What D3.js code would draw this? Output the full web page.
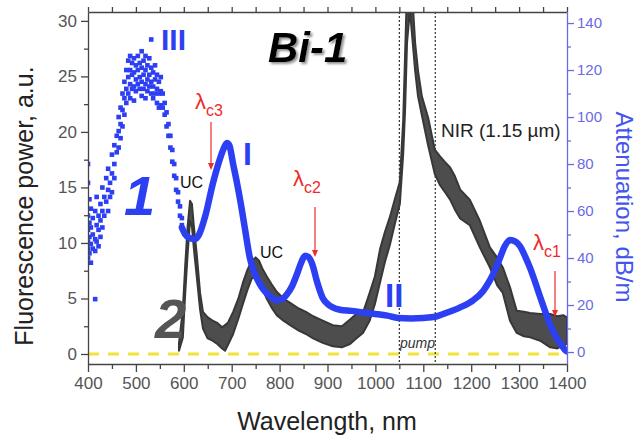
<!DOCTYPE html>
<html><head><meta charset="utf-8">
<script src="https://cdn.jsdelivr.net/npm/d3@7"></script>
<style>
html,body{margin:0;padding:0;background:#fff;}
svg{display:block;font-family:"Liberation Sans",Arial,sans-serif;}
</style></head>
<body><svg id="c" width="639" height="437"></svg>
<script>
// ---- data ----
const xTicks = [400,500,600,700,800,900,1000,1100,1200,1300,1400];
const leftTicks = [0,5,10,15,20,25,30];
const rightTicks = [0,20,40,60,80,100,120,140];

// curve 1: attenuation (dB/m), scattered part 400-600 nm
const scatterW = [400,400,400,400,400,400,400,403,403,403,403,406,406,406,406,410,410,410,415,415,415,415,418,418,418,422,422,422,426,426,426,430,430,430,434,434,438,438,442,442,442,446,446,450,450,450,455,455,455,460,460,464,464,464,468,468,468,472,472,472,476,476,476,480,480,480,484,484,484,488,488,488,488,492,492,492,496,496,496,496,500,500,500,504,504,504,508,508,508,512,512,512,512,516,516,516,520,520,520,520,524,524,524,528,528,528,532,532,532,532,536,536,536,540,540,540,544,544,544,548,548,548,552,552,552,556,556,560,560,564,564,568,568,572,572,576,576,580,580,584,584,588,588,592,592,596,596];
const scatterV = [80,72,58,52,47,44,40,65,55,49,42,61,53,46,38,57,50,44,22.5,60,48,43,66,54,47,58,52,45,63,56,49,70,60,53,66,58,74,64,78,69,60,72,66,84,76,68,88,80,74,92,85,100,94,87,104,97,91,110,103,96,115,108,101,120,112,106,124,117,110,126,120,114,108,123,118,112,125,119,113,107,122,116,111,126,120,114,123,117,112,128,121,115,109,124,118,112,126,120,114,108,122,116,111,125,118,113,133,121,115,110,119,113,108,122,116,110,118,112,106,115,110,104,117,111,105,110,104,106,101,102,96,97,92,92,87,86,81,80,75,74,69,68,64,62,58,57,54];

// curve 1: attenuation (dB/m), continuous part
const attW = [596,603,612,623,632,645,661,672,682,690,695,703,711,720,728,738,745,752,763,773,784,794,805,815,826,836,845,853,860,868,878,890,900,911,926,950,974,1000,1025,1047,1075,1100,1125,1150,1177,1204,1225,1239,1250,1260,1270,1281,1292,1302,1313,1323,1334,1344,1355,1365,1373,1381,1390,1396,1400];
const attV = [53,50,48.5,48,50,58,72,80,86,89,88,80,72,62,52,40,35,31.5,27.5,25,23,22,22.5,24.5,28,33,38,41,40.5,37.5,30,23,20.5,19,18,17.5,16.8,16.2,15.5,14.5,14.3,14.5,15,16.8,19,22,26,30.5,35,40,45,47.7,47,45,40.5,35.7,29.5,23.4,17,11.5,8,5.2,2.5,0.9,0.3];

// curve 2: fluorescence power (a.u.), noisy band: lower / upper envelope
const flW  = [590,598,603,608,613,617,621,627,634,640,650,660,670,680,686,692,703,714,724,733,742,750,757,765,773,783,794,808,822,840,855,870,890,911,930,947,960,974,988,999,1010,1020,1030,1041,1051,1058,1062,1066,1072,1076,1083,1089,1097,1110,1124,1135,1145,1156,1166,1177,1197,1218,1239,1254,1266,1281,1295,1310,1323,1344,1365,1380,1392,1400];
const flLo = [0.3,1.5,5.5,9,12,11.5,9.5,7,4,2.3,1.4,1.2,0.9,0.5,0.3,0.8,1.8,3.2,4.6,5.8,6.8,7,6.6,5.8,5,4.2,3.5,3,2.6,2.1,1.8,1.4,1.0,0.7,0.6,0.9,1.4,1.9,3,4.5,6.5,8.3,9.8,11.8,13.5,18,22,28,31,29,25.5,23.2,21.5,18.8,16.2,15.2,14.6,13.9,13,12.2,11.6,9.6,7.8,6.2,5.5,3,1.9,1.6,1.5,1.2,0.6,0.5,0.8,0.9];
const flHi = [1.0,4,8,11.5,13.8,13.5,11.5,9,5.5,3.8,3.3,3.0,2.8,2.4,2.6,2.8,3.8,5,6.5,7.6,8.4,8.7,8.4,7.6,7,6.3,5.6,5,4.6,4.1,3.8,3.4,3.0,2.6,2.5,3.1,3.6,3.7,5.5,7,9.5,11,12.3,14,15.5,21,27,33,34,33,28,25.5,23.2,21.3,18.4,17.8,17.3,16.8,16,14.8,13.9,12,9.6,8.7,7.8,6,3.9,3.8,3.7,3.6,3.6,3.4,3.5,3.3];

const vLines = [1050,1125];

// ---- layout ----
const svg = d3.select("#c");
const L=88,R=567,T=12,B=364;
const x = d3.scaleLinear([400,1400],[L,R]);
const yL = d3.scaleLinear([-0.9,30.8],[B,T]);
const yR = d3.scaleLinear([-5.1,144.7],[B,T]);
const BLUE="#2d3ff2", AX="#444", RAX="#6a6ae6", RED="#ee2a2a";

const defs = svg.append("defs");
defs.append("clipPath").attr("id","clip").append("rect").attr("x",L).attr("y",T).attr("width",R-L).attr("height",B-T);
defs.append("filter").attr("id","shadow").attr("x","-10%").attr("y","-10%").attr("width","130%").attr("height","140%")
  .append("feDropShadow").attr("dx",2).attr("dy",2).attr("stdDeviation",0.8).attr("flood-color","#888").attr("flood-opacity",0.9);
const plot = svg.append("g").attr("clip-path","url(#clip)");

// yellow dashed zero line
plot.append("line").attr("x1",L).attr("x2",R).attr("y1",yL(0)).attr("y2",yL(0))
  .attr("stroke","#f2e33a").attr("stroke-width",3).attr("stroke-dasharray","11,9");

// vertical dotted lines
vLines.forEach(v=>{
  plot.append("line").attr("x1",x(v)).attr("x2",x(v)).attr("y1",T).attr("y2",B)
    .attr("stroke","#333").attr("stroke-width",1.2).attr("stroke-dasharray","2,2");
});

// curve 2 band
const band = flW.map((w,i)=>({w,lo:flLo[i],hi:flHi[i]}));
plot.append("path").datum(band)
  .attr("d",d3.area().x(d=>x(d.w)).y0(d=>yL(d.lo)).y1(d=>yL(d.hi)).curve(d3.curveLinear))
  .attr("fill","#4d4d4d").attr("stroke","#383838").attr("stroke-width",2).attr("stroke-linejoin","round");

// curve 1 scatter
plot.selectAll("rect.sc").data(scatterW.map((w,i)=>[w,scatterV[i]])).join("rect")
  .attr("class","sc").attr("x",d=>x(d[0])-2.3).attr("y",d=>yR(d[1])-2.3)
  .attr("width",4.6).attr("height",4.6).attr("fill",BLUE);

// curve 1 line
plot.append("path").datum(attW.map((w,i)=>[w,attV[i]]))
  .attr("d",d3.line().x(d=>x(d[0])).y(d=>yR(d[1])).curve(d3.curveMonotoneX))
  .attr("fill","none").attr("stroke",BLUE).attr("stroke-width",6.5)
  .attr("stroke-linejoin","round").attr("stroke-linecap","round");

// ---- axes ----
function style(g,color,fs){
  g.select(".domain").attr("stroke",color).attr("stroke-width",1.3);
  g.selectAll(".tick line").attr("stroke",color).attr("stroke-width",1.3);
  g.selectAll(".tick text").attr("fill",color).style("font-size",fs+"px").style("font-family","'Liberation Sans',Arial,sans-serif");
}
const minorX = d3.range(450,1400,100);
// bottom
const gB = svg.append("g").attr("transform",`translate(0,${B})`)
  .call(d3.axisBottom(x).tickValues(xTicks).tickFormat(d3.format("d")).tickSizeInner(8).tickSizeOuter(0).tickPadding(5));
style(gB,"#555",17); gB.select(".domain").attr("stroke",AX);
gB.selectAll(".tick line").attr("stroke",AX);
svg.append("g").attr("transform",`translate(0,${B})`)
  .call(d3.axisBottom(x).tickValues(minorX).tickFormat("").tickSizeInner(5).tickSizeOuter(0))
  .call(g=>{g.select(".domain").remove(); g.selectAll("line").attr("stroke",AX).attr("stroke-width",1.3);});
// top
svg.append("g").attr("transform",`translate(0,${T})`)
  .call(d3.axisTop(x).tickValues(xTicks.concat(minorX)).tickFormat("").tickSizeInner(5).tickSizeOuter(0))
  .call(g=>{g.select(".domain").attr("stroke",AX).attr("stroke-width",1.3); g.selectAll("line").attr("stroke",AX).attr("stroke-width",1.3);});
// left
const gL = svg.append("g").attr("transform",`translate(${L},0)`)
  .call(d3.axisLeft(yL).tickValues(leftTicks).tickSizeInner(7).tickSizeOuter(0).tickPadding(4));
style(gL,"#555",17); gL.select(".domain").attr("stroke",AX); gL.selectAll(".tick line").attr("stroke",AX);
svg.append("g").attr("transform",`translate(${L},0)`)
  .call(d3.axisLeft(yL).tickValues(d3.range(2.5,30,5)).tickFormat("").tickSizeInner(4).tickSizeOuter(0))
  .call(g=>{g.select(".domain").remove(); g.selectAll("line").attr("stroke",AX).attr("stroke-width",1.3);});
// right
const gR = svg.append("g").attr("transform",`translate(${R},0)`)
  .call(d3.axisRight(yR).tickValues(rightTicks).tickSizeInner(7).tickSizeOuter(0).tickPadding(3));
style(gR,RAX,15);
svg.append("g").attr("transform",`translate(${R},0)`)
  .call(d3.axisRight(yR).tickValues(d3.range(10,140,20)).tickFormat("").tickSizeInner(4).tickSizeOuter(0))
  .call(g=>{g.select(".domain").remove(); g.selectAll("line").attr("stroke",RAX).attr("stroke-width",1.3);});

// axis titles
svg.append("text").attr("transform","translate(33,206) rotate(-90)").attr("text-anchor","middle")
  .style("font-size","25px").attr("fill","#222").text("Fluorescence power, a.u.");
svg.append("text").attr("x",327).attr("y",430).attr("text-anchor","middle")
  .style("font-size","25px").attr("fill","#222").text("Wavelength, nm");
svg.append("text").attr("transform","translate(616,207) rotate(90)").attr("text-anchor","middle")
  .style("font-size","24px").attr("fill","#4455ee").text("Attenuation, dB/m");

// annotations
svg.append("text").attr("x",268).attr("y",62).style("font-size","42px").style("font-weight","bold").style("font-style","italic")
  .attr("fill","#000").attr("filter","url(#shadow)").text("Bi-1");
function t(xx,yy,s,fs,col,opt={}){
  const e=svg.append("text").attr("x",xx).attr("y",yy).style("font-size",fs+"px").attr("fill",col).text(s);
  if(opt.bold) e.style("font-weight","bold");
  if(opt.italic) e.style("font-style","italic");
  if(opt.anchor) e.attr("text-anchor",opt.anchor);
  return e;
}
t(161,50,"III",30,BLUE,{bold:true});
t(243,165,"I",32,BLUE,{bold:true});
t(385,307,"II",33,BLUE,{bold:true});
t(124,215,"1",56,BLUE,{bold:true,italic:true});
t(155,338,"2",56,"#555",{bold:true,italic:true});
t(180,188,"UC",16,"#111");
t(260,258,"UC",16,"#111");
t(441,137,"NIR (1.15 \u00b5m)",19,"#222");
t(400,348,"pump",14,"#333",{italic:true});

function lam(xx,yy,sub,ax,ay1,ay2){
  const e=svg.append("text").attr("x",xx).attr("y",yy).attr("fill",RED).style("font-size","22px");
  e.append("tspan").text("\u03bb");
  e.append("tspan").attr("dy",7).style("font-size","16px").text(sub);
  svg.append("line").attr("x1",ax).attr("x2",ax).attr("y1",ay1).attr("y2",ay2-5).attr("stroke",RED).attr("stroke-width",1.2);
  svg.append("path").attr("d",`M${ax-3},${ay2-7}L${ax+3},${ay2-7}L${ax},${ay2}Z`).attr("fill",RED);
}
lam(195,109,"c3",211,122,170);
lam(293,186,"c2",315,207,257);
lam(533,250,"c1",555,271,317);
</script></body></html>
